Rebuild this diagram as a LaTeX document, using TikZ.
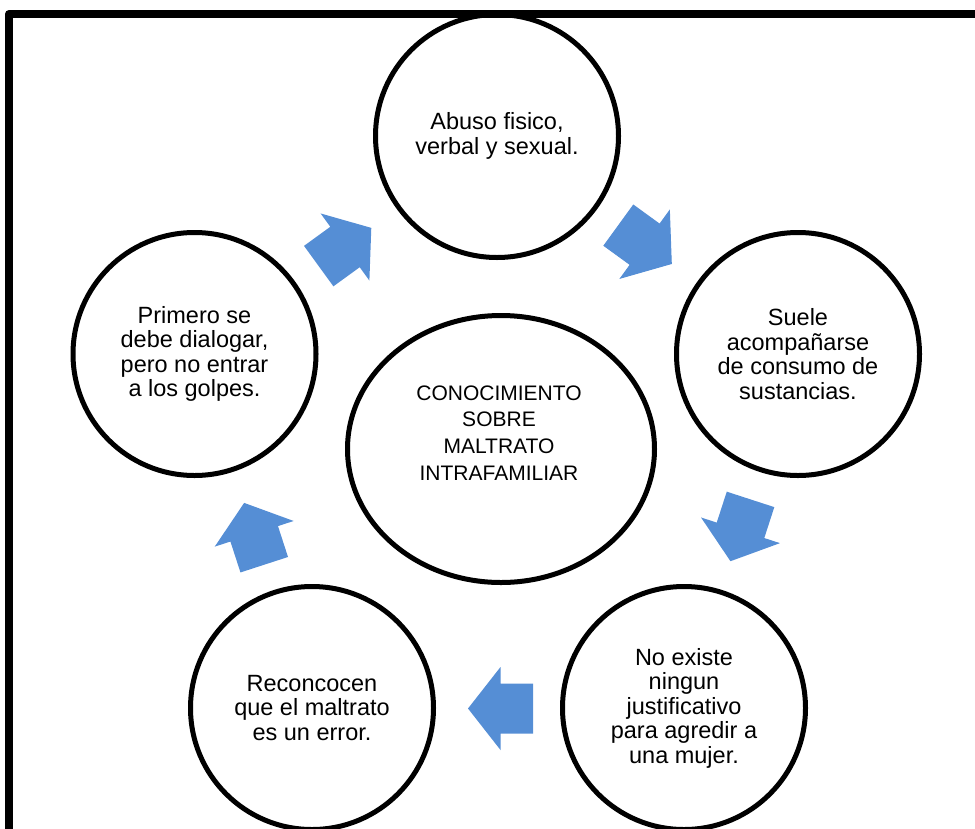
\documentclass[tikz,border=0pt]{standalone}
\usepackage{fontspec}
\setmainfont{Liberation Sans}
\usetikzlibrary{shapes.geometric}

\definecolor{cycleblue}{RGB}{85,142,213}
\definecolor{cycleedge}{RGB}{150,188,232}

\tikzset{
  stage/.style={circle, draw=black, line width=5pt, fill=white,
    minimum size=243pt, inner sep=0pt, align=center,
    font=\fontsize{23.5}{24.5}\selectfont},
  hub/.style={ellipse, draw=black, line width=5pt, fill=white,
    minimum width=307pt, minimum height=267pt, inner sep=0pt},
  hubtext/.style={align=center, inner sep=0pt,
    font=\fontsize{21}{26.7}\selectfont},
  frameline/.style={line width=8pt, line join=round},
  % block arrow pointing along +x, centred on the base of its head
  cyclearrow/.pic={
    \fill[cycleblue, pic actions]
      (-32.5,-25) -- (0,-25) -- (0,-41.5) -- (32.5,0)
      -- (0,41.5) -- (0,25) -- (-32.5,25) -- cycle;
  }
}

\begin{document}
\begin{tikzpicture}[x=1pt, y=-1pt]
  \useasboundingbox (0,0) rectangle (975,828);
  \clip (0,0) rectangle (975,828);

  % hub of the cycle
  \node[hub] (hub) at (501,449) {};
  \node[hubtext] (hubtext) at (499,433)
    {CONOCIMIENTO\\SOBRE\\MALTRATO\\INTRAFAMILIAR};

  % the five stages
  \node[stage] (s1) at (497,136) {Abuso fisico,\\verbal y sexual.};
  \node[stage] (s2) at (798,354) {Suele\\acompañarse\\de consumo de\\sustancias.};
  \node[stage] (s3) at (684,708) {No existe\\ningun\\justificativo\\para agredir a\\una mujer.};
  \node[stage] (s4) at (312,708) {Reconcocen\\que el maltrato\\es un error.};
  \node[stage] (s5) at (194.5,354) {Primero se\\debe dialogar,\\pero no entrar\\a los golpes.};

  % arrows between consecutive stages
  \pic[rotate=-36, draw=cycleedge, line width=1pt] at (645,244.5) {cyclearrow};
  \pic[rotate=-108] at (740.5,530.3) {cyclearrow};
  \pic[rotate=180] at (500.5,708.5) {cyclearrow};
  \pic[rotate=108] at (254.2,533.8) {cyclearrow};
  \pic[rotate=36] at (345,247) {cyclearrow};

  % outer frame
  \coordinate (fbl) at (9,860);
  \coordinate (ftl) at (9,14);
  \coordinate (ftr) at (1000,14);
  \draw[frameline] (fbl) -- (ftl) -- (ftr);
\end{tikzpicture}
\end{document}
